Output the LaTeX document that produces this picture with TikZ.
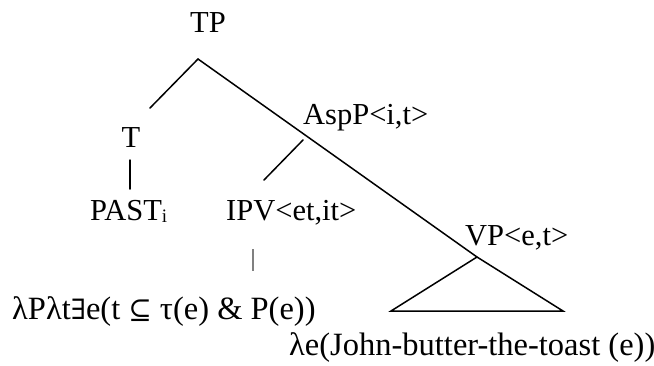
\documentclass[tikz,border=0pt]{standalone}
\usepackage{fontspec}
\setmainfont{Liberation Serif}
\newfontfamily\symf{DejaVu Serif}
\begin{document}
\begin{tikzpicture}[x=1pt,y=-1pt,
  lbl/.style={inner sep=0pt,anchor=base west,font=\fontsize{30.5}{30.5}\selectfont},
  den/.style={inner sep=0pt,anchor=base west,font=\fontsize{32.5}{32.5}\selectfont},
  edge/.style={line width=1.5pt,line cap=round,line join=miter},
  thin/.style={line width=1.2pt,gray}]
\useasboundingbox (0,0) rectangle (654,365);
\node[lbl,anchor=base] (tp) at (208,32) {TP};
\node[lbl,anchor=base] (t) at (131,147) {T};
\node[lbl] (past) at (90,220) {PAST\raisebox{-0.2ex}{\fontsize{19}{19}\selectfont i}};
\node[lbl] (ipv) at (226,220) {IPV<et,it>};
\node[lbl] (asp) at (303,124) {AspP<i,t>};
\node[lbl] (vp) at (465,245) {VP<e,t>};
\node[den] (ipvden) at (12,319) {λPλt{\symf\fontsize{28}{28}\selectfont ∃}e(t {\symf\fontsize{28}{28}\selectfont ⊆} τ(e) \& P(e))};
\node[den] (vpden) at (289,355) {λe(John-butter-the-toast (e))};
\coordinate (tpA) at (198,59);
\coordinate (tL) at (150,108);
\coordinate (vpA) at (477,257);
\coordinate (tB) at (130,160);
\coordinate (pastT) at (130,189);
\coordinate (aspB) at (303,140);
\coordinate (ipvT) at (264,180);
\coordinate (ipvB) at (253,249);
\coordinate (denT) at (253,271);
\coordinate (triL) at (391,311);
\coordinate (triR) at (563,311);
\draw[edge] (tpA) -- (tL);
\draw[edge] (tpA) -- (vpA);
\draw[edge] (tB) -- (pastT);
\draw[edge] (aspB) -- (ipvT);
\draw[thin] (ipvB) -- (denT);
\draw[edge] (vpA) -- (triL) -- (triR) -- cycle;
\end{tikzpicture}
\end{document}
